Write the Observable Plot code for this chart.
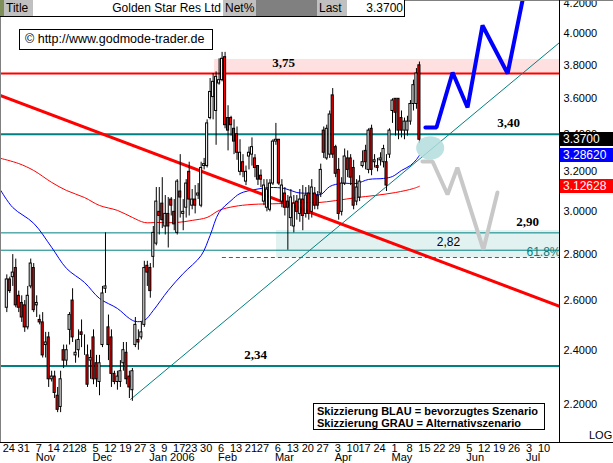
<!DOCTYPE html>
<html><head><meta charset="utf-8">
<script src="https://cdn.jsdelivr.net/npm/d3@7"></script>
<script src="https://cdn.jsdelivr.net/npm/@observablehq/plot@0.6"></script>
<style>
html,body{margin:0;padding:0;background:#fff;}
#wrap{position:relative;width:613px;height:463px;overflow:hidden;font-family:Arial,"Liberation Sans",sans-serif;}
.abs{position:absolute;box-sizing:border-box;white-space:nowrap;}
</style></head><body><div id="wrap"></div>
<script>
// ---------- data ----------
const firstDay = "2005-10-24", lastAxisDay = "2006-07-14";
const holidays = ["2005-11-24","2005-12-26","2006-01-02","2006-01-16","2006-02-20","2006-04-14"];
const opens = [2.57,2.69,2.70,2.74,2.62,2.59,2.58,2.49,2.66,2.74, 2.58,2.52,2.51,2.42,2.45,2.29,2.30,2.23,2.19,2.40,
 2.36,2.48,2.60,2.38,2.40,2.47,2.44,2.38,2.36,2.45, 2.35,2.28,2.42,2.65,2.49,2.45,2.31,2.28,2.28,2.35,
 2.39,2.30,2.25,2.42,2.44,2.45,2.50,2.75,2.74,2.79, 2.85,3.00,3.04,2.93,2.99,3.06,3.00,2.90,3.10,2.99,
 3.02,3.20,3.03,3.06,3.08,3.03,3.23,3.23,3.49,3.61, 3.53,3.69,3.71,3.85,3.49,3.49,3.43,3.40,3.20,3.25,
 3.15,3.28,3.29,3.27,3.23,3.18,3.05,3.02,3.01,3.14, 3.36,3.37,3.05,3.09,3.05,2.97,2.93,3.05,2.99,3.06,
 2.99,3.09,3.00,3.09,3.08,3.09,3.42,3.27,3.29,3.62, 3.33,3.21,3.00,3.14,3.27,3.27,3.22,3.05,3.07,3.23,
 3.31,3.21,3.43,3.25,3.23,3.26,3.25,3.25,3.29,3.53, 3.60,3.60,3.49,3.42,3.42,3.47,3.57,3.57,3.80];
const highs = [2.71,2.70,2.80,2.78,2.64,2.62,2.60,2.66,2.78,2.76, 2.62,2.54,2.55,2.47,2.47,2.32,2.32,2.26,2.32,2.42,
 2.42,2.55,2.65,2.44,2.48,2.52,2.46,2.42,2.40,2.48, 2.38,2.38,2.66,2.90,2.54,2.48,2.32,2.32,2.36,2.43,
 2.43,2.32,2.33,2.53,2.48,2.51,2.77,2.77,2.76,2.93, 3.12,3.12,3.17,3.08,3.07,3.07,3.06,3.16,3.29,3.06,
 3.16,3.25,3.11,3.13,3.14,3.25,3.27,3.48,3.72,3.75, 3.76,3.84,3.88,3.88,3.56,3.50,3.48,3.44,3.37,3.29,
 3.23,3.33,3.38,3.29,3.23,3.21,3.16,3.16,3.16,3.37, 3.46,3.37,3.16,3.12,3.08,3.11,3.08,3.08,3.11,3.13,
 3.12,3.13,3.16,3.12,3.10,3.24,3.44,3.45,3.53,3.66, 3.34,3.27,3.17,3.32,3.31,3.29,3.26,3.16,3.18,3.31,
 3.34,3.43,3.45,3.29,3.27,3.30,3.34,3.29,3.43,3.60, 3.60,3.60,3.53,3.49,3.50,3.59,3.71,3.78,3.82];
const lows = [2.55,2.63,2.66,2.57,2.55,2.51,2.47,2.48,2.65,2.55, 2.53,2.50,2.37,2.37,2.26,2.28,2.22,2.17,2.17,2.33,
 2.34,2.42,2.43,2.35,2.37,2.41,2.38,2.26,2.29,2.27, 2.26,2.23,2.41,2.63,2.36,2.26,2.27,2.25,2.26,2.32,
 2.27,2.22,2.21,2.41,2.40,2.44,2.49,2.66,2.61,2.74, 2.84,2.89,2.92,2.89,2.83,2.98,2.91,2.89,2.97,2.91,
 2.97,2.98,3.01,2.99,3.06,3.02,3.21,3.22,3.48,3.48, 3.34,3.68,3.70,3.43,3.31,3.39,3.29,3.26,3.18,3.17,
 3.13,3.21,3.23,3.17,3.13,3.12,3.03,3.00,3.00,3.13, 3.34,3.13,3.02,2.98,2.82,2.93,2.90,2.96,2.95,2.91,
 2.97,2.96,2.97,3.01,3.01,3.07,3.27,3.26,3.27,3.27, 3.17,2.96,2.98,3.13,3.17,3.13,3.01,3.03,3.05,3.22,
 3.21,3.19,3.18,3.22,3.20,3.23,3.22,3.10,3.27,3.46, 3.39,3.37,3.38,3.37,3.39,3.45,3.53,3.54,3.35];
const closes = [2.69,2.64,2.72,2.58,2.57,2.53,2.49,2.62,2.76,2.56, 2.59,2.51,2.38,2.43,2.29,2.30,2.24,2.18,2.29,2.36,
 2.40,2.54,2.45,2.39,2.44,2.46,2.44,2.27,2.37,2.29, 2.29,2.35,2.63,2.66,2.42,2.31,2.28,2.30,2.32,2.40,
 2.29,2.26,2.32,2.50,2.43,2.47,2.74,2.72,2.64,2.90, 3.05,2.98,2.96,2.99,2.93,3.03,2.94,3.15,3.07,3.00,
 3.14,3.06,3.06,3.03,3.09,3.22,3.24,3.46,3.64,3.70, 3.73,3.71,3.84,3.45,3.42,3.45,3.36,3.30,3.30,3.20,
 3.20,3.30,3.33,3.22,3.16,3.16,3.13,3.11,3.14,3.36, 3.37,3.14,3.13,3.02,3.02,3.07,3.04,3.00,3.06,2.98,
 3.08,2.99,3.12,3.03,3.03,3.21,3.30,3.43,3.51,3.29, 3.19,2.99,3.14,3.28,3.21,3.17,3.03,3.12,3.15,3.25,
 3.25,3.42,3.21,3.26,3.22,3.27,3.32,3.13,3.42,3.59, 3.52,3.42,3.42,3.47,3.47,3.57,3.68,3.75,3.37];

// moving averages (trading-day index, value)
const blueMAIdx = [-2,2,9,15,20,26,31,37,41,43,46,49,54,59,65,68,71,75,78,83,88,93,97,102,105,108,112,117,121,126,129,132,135,137,138];
const blueMAVal = [3.105,3.021,2.945,2.833,2.738,2.677,2.609,2.567,2.526,2.514,2.518,2.559,2.643,2.716,2.796,2.888,2.997,3.055,3.090,3.110,3.120,3.115,3.095,3.090,3.085,3.125,3.141,3.141,3.161,3.166,3.176,3.207,3.233,3.264,3.2862];
const redMAIdx = [-2,4,9,15,20,26,31,37,42,46,50,57,62,67,71,76,82,91,98,104,110,117,123,130,136,138];
const redMAVal = [3.27,3.243,3.207,3.146,3.105,3.070,3.031,3.007,2.973,2.949,2.949,2.949,2.959,2.973,3.007,3.026,3.036,3.040,3.045,3.045,3.055,3.070,3.080,3.095,3.115,3.12628];

// trend lines
const downTrendIdx = [-3, 186], downTrendVal = [3.625, 2.571];
const upTrendIdx = [41.4, 186], upTrendVal = [2.217, 3.96];

// scenarios
const blueScenIdx = [140.0,143.7,149.1,154.1,159.1,167.5,173.5];
const blueScenVal = [3.437,3.437,3.756,3.550,4.052,3.750,4.322];
const grayScenIdx = [139.0,142.4,147.4,150.7,159.4,164.1];
const grayScenVal = [3.254,3.254,3.085,3.222,2.823,3.095];

// levels & zones
const levelValues = [3.75, 3.40, 2.90, 2.82, 2.34];
const levelLabelIdx = [92.6, 167.8, 174.2, 147.7, 83.2];
const fibValue = 2.787, fibLabel = "61.8%", fibFromIdx = 72.1;
const resistanceZone = [3.75, 3.836], resistanceFromIdx = 69.5;
const supportZone = [2.785, 2.911], supportFromIdx = 90.2;
const markerIdx = 141.6, markerVal = 3.326;
const yTicks = [2.2, 2.4, 2.6, 2.8, 3.0, 3.2, 3.4, 3.6, 3.8, 4.0, 4.2];

// ---------- build ----------
const candles = opens.map((o, i) => ({i, open: o, high: highs[i], low: lows[i], close: closes[i]}));
const pairs = (a, b) => a.map((v, k) => ({i: v, v: b[k]}));
const blueMA = pairs(blueMAIdx, blueMAVal), redMA = pairs(redMAIdx, redMAVal);
const downTrend = pairs(downTrendIdx, downTrendVal), upTrend = pairs(upTrendIdx, upTrendVal);
const blueScen = pairs(blueScenIdx, blueScenVal), grayScen = pairs(grayScenIdx, grayScenVal);

const days = [];
const hol = new Set(holidays);
for (let d = new Date(firstDay + "T00:00:00Z"); d <= new Date(lastAxisDay + "T00:00:00Z"); d = new Date(+d + 864e5)) {
  const wd = d.getUTCDay();
  if (wd === 0 || wd === 6) continue;
  if (hol.has(d.toISOString().slice(0, 10))) continue;
  days.push(d);
}
const weekStarts = [];
days.forEach((d, i) => {
  if (i === 0 || d.getUTCDay() < days[i - 1].getUTCDay() || (d - days[i - 1]) > 3 * 864e5) weekStarts.push({i, d});
});
const monthStarts = weekStarts.filter((w, k) => k > 0 && w.d.getUTCMonth() !== weekStarts[k - 1].d.getUTCMonth())
  .map(w => ({i: w.i, label: w.d.getUTCMonth() === 0 ? d3.utcFormat("%b %Y")(w.d) : d3.utcFormat("%b")(w.d)}));

const xDomain = [-2.107, 184.85];
const yDomain = [2.068, 4.2186];
const W = 613, H = 463, MR = 54, MB = 21;
const teal = "#008080";

const ellipse = {draw(ctx, size) {
  const r = Math.sqrt(size / Math.PI), rx = r * 1.2, ry = r, k = 0.5523;
  ctx.moveTo(rx, 0);
  ctx.bezierCurveTo(rx, ry * k, rx * k, ry, 0, ry);
  ctx.bezierCurveTo(-rx * k, ry, -rx, ry * k, -rx, 0);
  ctx.bezierCurveTo(-rx, -ry * k, -rx * k, -ry, 0, -ry);
  ctx.bezierCurveTo(rx * k, -ry, rx, -ry * k, rx, 0);
  ctx.closePath();
}};

const fmtLevel = v => v.toFixed(2).replace(".", ",");
const levelTexts = levelValues.map((v, k) => ({i: levelLabelIdx[k], v, t: fmtLevel(v), bold: k !== 3}));

const chart = Plot.plot({
  width: W, height: H,
  marginTop: 0, marginLeft: 0, marginRight: MR, marginBottom: MB,
  style: {fontFamily: "Arial, 'Liberation Sans', sans-serif", fontSize: "11px", background: "white", color: "black", overflow: "visible"},
  x: {domain: xDomain, axis: null},
  y: {type: "log", domain: yDomain, axis: "right", ticks: yTicks, tickFormat: d3.format(".4f"), tickSize: 0, tickPadding: 4, label: null},
  marks: [
    Plot.rect([0], {x1: resistanceFromIdx, x2: xDomain[1], y1: resistanceZone[0], y2: resistanceZone[1], fill: "#ffe0e0"}),
    Plot.rect([0], {x1: supportFromIdx, x2: xDomain[1], y1: supportZone[0], y2: supportZone[1], fill: "#e2f2f0"}),
    Plot.ruleY([levelValues[0]], {stroke: "#ff0000", strokeWidth: 2}),
    Plot.ruleY([levelValues[1], levelValues[4]], {stroke: teal, strokeWidth: 2}),
    Plot.ruleY([levelValues[2], levelValues[3]], {stroke: teal, strokeWidth: 1}),
    Plot.ruleY([fibValue], {x1: fibFromIdx, x2: xDomain[1], stroke: teal, strokeWidth: 1, strokeDasharray: "4,3"}),
    Plot.line(redMA, {x: "i", y: "v", stroke: "#ff0000", strokeWidth: 1, curve: "catmull-rom", clip: true}),
    Plot.line(blueMA, {x: "i", y: "v", stroke: "#0000ff", strokeWidth: 1, curve: "catmull-rom", clip: true}),
    Plot.line(upTrend, {x: "i", y: "v", stroke: teal, strokeWidth: 1, clip: true}),
    Plot.line(downTrend, {x: "i", y: "v", stroke: "#ff0000", strokeWidth: 3, clip: true}),
    Plot.ruleX(candles, {x: "i", y1: "low", y2: "high", stroke: "black", strokeWidth: 1}),
    Plot.rect(candles, {x1: d => d.i - 0.35, x2: d => d.i + 0.35, y1: "open", y2: "close",
      fill: d => d.close >= d.open ? "white" : "#ff0000", stroke: "black", strokeWidth: 1}),
    Plot.dot([0], {x: markerIdx, y: markerVal, r: 11.7, symbol: ellipse, fill: "#b3dcdc", fillOpacity: 0.85, stroke: "none"}),
    Plot.line(grayScen, {x: "i", y: "v", stroke: "#c8c8c8", strokeWidth: 4, strokeLinejoin: "miter", clip: true}),
    Plot.line(blueScen, {x: "i", y: "v", stroke: "#0000ff", strokeWidth: 4, strokeLinejoin: "miter", clip: true}),
    Plot.text(levelTexts.filter(d => d.bold), {x: "i", y: "v", text: "t", dy: -11, fontSize: 13, fontWeight: "bold", fontFamily: "'Liberation Serif','Times New Roman',serif", fill: "black"}),
    Plot.text(levelTexts.filter(d => !d.bold), {x: "i", y: "v", text: "t", dy: -8, fontSize: 12, fill: "black"}),
    Plot.text([fibLabel], {x: 179.5, y: fibValue, text: d => d, dy: -5, fontSize: 12, fill: teal, clip: true}),
    Plot.text(weekStarts, {x: "i", text: d => String(d.d.getUTCDate()), frameAnchor: "bottom", dy: 9, dx: 2, fontSize: 11, fill: "black"}),
    Plot.text(monthStarts, {x: "i", text: "label", frameAnchor: "bottom", dy: 18, dx: -1, textAnchor: "start", fontSize: 11, fill: "black"})
  ]
});

const wrap = document.getElementById("wrap");
chart.style.position = "absolute"; chart.style.left = "0"; chart.style.top = "0";
wrap.appendChild(chart);

function box(css, text) {
  const el = document.createElement("div");
  el.className = "abs";
  el.style.cssText += css;
  if (text != null) el.textContent = text;
  wrap.appendChild(el);
  return el;
}
const plotRight = W - MR, plotBottom = H - MB;
// frame lines
box(`left:0;top:0;width:1px;height:${plotBottom}px;background:#808080;`);
box(`left:0;top:0;width:${W}px;height:1px;background:#808080;`);
box(`left:${plotRight}px;top:0;width:1px;height:${plotBottom}px;background:#000;`);
box(`left:0;top:${plotBottom}px;width:${W}px;height:1px;background:#000;`);
box(`left:${W - 24}px;top:${plotBottom - 12}px;font-size:11px;line-height:11px;`, "LOG");

// last-value boxes on the price axis
const yScale = d3.scaleLog().domain(yDomain).range([plotBottom, 0]);
const lastBoxes = [
  {v: closes[closes.length - 1], t: closes[closes.length - 1].toFixed(4), bg: "#000"},
  {v: blueMAVal[blueMAVal.length - 1], t: blueMAVal[blueMAVal.length - 1].toFixed(5), bg: "#0000ff"},
  {v: redMAVal[redMAVal.length - 1], t: redMAVal[redMAVal.length - 1].toFixed(5), bg: "#ff0000"}
];
lastBoxes.forEach(b => {
  const y = yScale(b.v);
  box(`left:${plotRight + 1}px;top:${Math.round(y - 7)}px;width:${W - plotRight - 1}px;height:14px;background:${b.bg};color:#fff;font-size:12px;line-height:14px;padding-left:3px;`, b.t);
});

// header bar
const hdr = [
  {x: 0, w: 4, bg: "#7f8f5a", t: ""},
  {x: 4, w: 29, bg: "#c0c0c0", t: "Title", al: "left"},
  {x: 33, w: 190, bg: "#fff", t: "Golden Star Res Ltd", al: "right"},
  {x: 223, w: 33, bg: "#c0c0c0", t: "Net%", al: "left"},
  {x: 256, w: 61, bg: "#808080", t: ""},
  {x: 317, w: 30, bg: "#c0c0c0", t: "Last", al: "left"},
  {x: 347, w: 58, bg: "#fff", t: closes[closes.length - 1].toFixed(4), al: "right"}
];
hdr.forEach(h => box(`left:${h.x}px;top:0;width:${h.w}px;height:16px;background:${h.bg};font-size:12px;line-height:16px;text-align:${h.al || "left"};padding:0 2px;overflow:hidden;`, h.t));
box(`left:0;top:16px;width:405px;height:1px;background:#000;`);
box(`left:404px;top:0;width:1px;height:17px;background:#000;`);

// copyright box
box(`left:19px;top:29px;width:194px;height:21px;border:1px solid #000;background:#fff;font-size:12.5px;line-height:19px;padding-left:5px;`, "\u00A9 http://www.godmode-trader.de");

// legend box
const legend = box(`left:313px;top:403px;width:232px;height:27px;border:1px solid #000;background:#fff;font-size:11px;font-weight:bold;line-height:12px;padding:1px 0 0 3px;`);
legend.innerHTML = "Skizzierung BLAU = bevorzugtes Szenario<br>Skizzierung GRAU = Alternativszenario";
</script></body></html>
